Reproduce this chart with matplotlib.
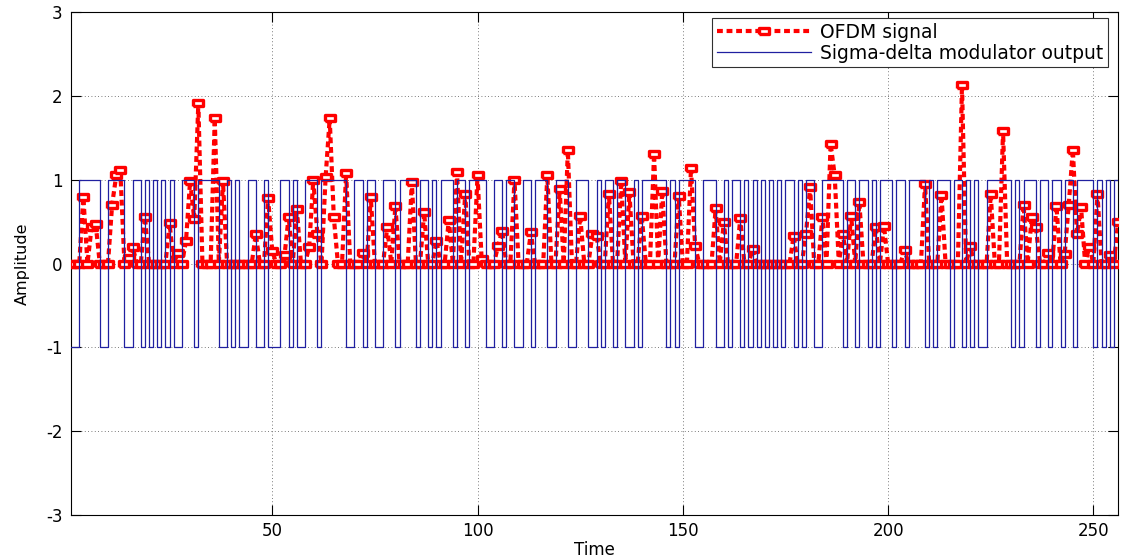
import matplotlib.pyplot as plt
import numpy as np

plt.rcParams['font.family'] = ['DejaVu Sans']
plt.rcParams['axes.unicode_minus'] = False

# ---- data ----
n_samples = 256

# OFDM samples that are not zero (sample index, amplitude)
ofdm_idx = [4, 6, 7, 11, 12, 13, 15, 16, 19, 25, 27, 29, 30, 31, 32, 36, 38,
            46, 49, 50, 53, 54, 56, 59, 60, 61, 63, 64, 65, 68, 72, 74, 78, 80,
            84, 87, 90, 93, 95, 97, 100, 101, 105, 106, 109, 113, 117, 120, 122,
            125, 128, 129, 132, 135, 137, 140, 143, 145, 149, 152, 153, 158, 160,
            164, 167, 177, 180, 181, 184, 186, 187, 189, 191, 193, 197, 199, 204,
            209, 213, 218, 220, 225, 228, 233, 235, 236, 239, 241, 243, 244, 245,
            246, 247, 249, 251, 254, 256]
ofdm_val = [0.79, 0.43, 0.47, 0.70, 1.05, 1.11, 0.07, 0.20, 0.56, 0.48, 0.13, 0.27,
            0.99, 0.53, 1.91, 1.73, 0.98, 0.35, 0.78, 0.15, 0.10, 0.56, 0.65, 0.20,
            1.00, 0.35, 1.03, 1.73, 0.55, 1.08, 0.12, 0.79, 0.43, 0.69, 0.97, 0.61,
            0.27, 0.52, 1.09, 0.83, 1.05, 0.05, 0.21, 0.39, 1.00, 0.37, 1.05, 0.89,
            1.35, 0.57, 0.35, 0.33, 0.83, 0.99, 0.85, 0.57, 1.31, 0.87, 0.81, 1.14,
            0.21, 0.66, 0.50, 0.54, 0.17, 0.33, 0.35, 0.91, 0.55, 1.43, 1.05, 0.35,
            0.57, 0.73, 0.43, 0.45, 0.16, 0.95, 0.82, 2.13, 0.21, 0.83, 1.58, 0.70,
            0.56, 0.43, 0.13, 0.69, 0.11, 0.70, 1.36, 0.35, 0.67, 0.20, 0.83, 0.10,
            0.49]

# samples where the sigma-delta output sits at -1 (all others are +1)
sdm_low_idx = [1, 2, 8, 9, 14, 15, 18, 20, 22, 24, 26, 27, 31, 37, 38, 40, 42, 43,
               46, 47, 49, 50, 51, 54, 56, 57, 61, 68, 69, 72, 75, 76, 80, 85, 88,
               90, 94, 97, 102, 103, 106, 109, 110, 113, 117, 118, 122, 123, 127,
               128, 130, 133, 136, 137, 139, 146, 148, 153, 154, 158, 159, 161, 164,
               166, 168, 170, 172, 174, 177, 179, 182, 183, 189, 192, 195, 197, 201,
               204, 209, 211, 215, 218, 220, 222, 223, 230, 232, 236, 239, 242, 245,
               250, 252, 254]

time = np.arange(1, n_samples + 1)
ofdm = np.zeros(n_samples)
ofdm[np.array(ofdm_idx) - 1] = ofdm_val
sdm = np.ones(n_samples)
sdm[np.array(sdm_low_idx) - 1] = -1

# ---- figure ----
fig = plt.figure(figsize=(11.26, 5.59), dpi=100)
ax = fig.add_axes([0.0631, 0.0787, 0.9298, 0.8998])

# squares in the reference look stretched sideways, so use a flat rectangle
rect_marker = [(-1.5, -1), (1.5, -1), (1.5, 1), (-1.5, 1), (-1.5, -1)]
ax.plot(time, ofdm, color='red', lw=3, dashes=(1.4, 0.9),
        marker=rect_marker, ms=7.5, mew=2.4, mfc='white', mec='red',
        label='OFDM signal', zorder=3)
ax.step(time, sdm, where='post', color='#2020a0', lw=0.9,
        label='Sigma-delta modulator output', zorder=4)

ax.set_xlim(1, 256)
ax.set_ylim(-3, 3)
ax.set_xticks([50, 100, 150, 200, 250])
ax.set_yticks(range(-3, 4))
ax.tick_params(direction='in', top=True, right=True, length=7, width=0.8,
               labelsize=12)
ax.tick_params(axis='y', pad=6)
ax.tick_params(axis='x', pad=5)
ax.set_axisbelow(True)
ax.grid(True, color='#505050', linestyle=(0, (1, 3)), lw=0.6)
for sp in ax.spines.values():
    sp.set_linewidth(0.8)

ax.set_xlabel('Time', fontsize=12, labelpad=1)
ax.set_ylabel('Amplitude', fontsize=11.5, labelpad=12)

leg = ax.legend(loc='upper right', bbox_to_anchor=(0.9905, 0.988), borderaxespad=0,
                fontsize=13.5, handlelength=5, labelspacing=0.1, borderpad=0.25,
                handletextpad=0.5, fancybox=False, edgecolor='#303030', framealpha=1)
leg.get_frame().set_linewidth(0.8)

fig.savefig('out.png', dpi=100)
